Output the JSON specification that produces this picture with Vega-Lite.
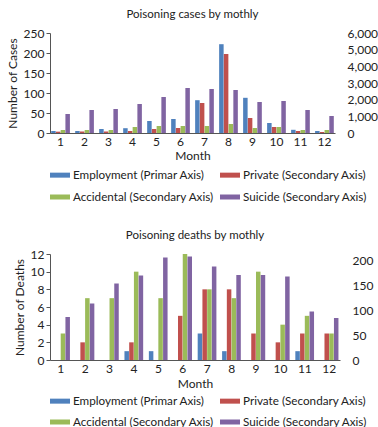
{
  "$schema": "https://vega.github.io/schema/vega-lite/v6.json",
  "padding": {"top": 8, "left": 6, "right": 2, "bottom": 0},
  "background": "white",
  "config": {
    "view": {"stroke": null},
    "font": "Lato",
    "axis": {"labelFont": "Lato", "titleFont": "Lato", "labelColor": "#222", "titleColor": "#222", "labelFontSize": 12, "titleFontSize": 12, "titleFontWeight": "normal", "grid": false},
    "legend": {"labelFont": "Lato", "labelFontSize": 11.7, "labelColor": "#222"},
    "title": {"font": "Lato", "fontSize": 11.5, "fontWeight": "normal", "color": "#222"}
  },
  "datasets": {
    "d": [
      {"chart": "cases", "month": 1, "series": "Employment (Primar Axis)", "value": 5},
      {"chart": "cases", "month": 2, "series": "Employment (Primar Axis)", "value": 5},
      {"chart": "cases", "month": 3, "series": "Employment (Primar Axis)", "value": 10},
      {"chart": "cases", "month": 4, "series": "Employment (Primar Axis)", "value": 12},
      {"chart": "cases", "month": 5, "series": "Employment (Primar Axis)", "value": 30},
      {"chart": "cases", "month": 6, "series": "Employment (Primar Axis)", "value": 35},
      {"chart": "cases", "month": 7, "series": "Employment (Primar Axis)", "value": 82},
      {"chart": "cases", "month": 8, "series": "Employment (Primar Axis)", "value": 222},
      {"chart": "cases", "month": 9, "series": "Employment (Primar Axis)", "value": 88},
      {"chart": "cases", "month": 10, "series": "Employment (Primar Axis)", "value": 25},
      {"chart": "cases", "month": 11, "series": "Employment (Primar Axis)", "value": 8},
      {"chart": "cases", "month": 12, "series": "Employment (Primar Axis)", "value": 5},
      {"chart": "cases", "month": 1, "series": "Private (Secondary Axis)", "value": 80},
      {"chart": "cases", "month": 2, "series": "Private (Secondary Axis)", "value": 90},
      {"chart": "cases", "month": 3, "series": "Private (Secondary Axis)", "value": 90},
      {"chart": "cases", "month": 4, "series": "Private (Secondary Axis)", "value": 120},
      {"chart": "cases", "month": 5, "series": "Private (Secondary Axis)", "value": 240},
      {"chart": "cases", "month": 6, "series": "Private (Secondary Axis)", "value": 300},
      {"chart": "cases", "month": 7, "series": "Private (Secondary Axis)", "value": 1800},
      {"chart": "cases", "month": 8, "series": "Private (Secondary Axis)", "value": 4740},
      {"chart": "cases", "month": 9, "series": "Private (Secondary Axis)", "value": 900},
      {"chart": "cases", "month": 10, "series": "Private (Secondary Axis)", "value": 360},
      {"chart": "cases", "month": 11, "series": "Private (Secondary Axis)", "value": 120},
      {"chart": "cases", "month": 12, "series": "Private (Secondary Axis)", "value": 60},
      {"chart": "cases", "month": 1, "series": "Accidental (Secondary Axis)", "value": 180},
      {"chart": "cases", "month": 2, "series": "Accidental (Secondary Axis)", "value": 180},
      {"chart": "cases", "month": 3, "series": "Accidental (Secondary Axis)", "value": 180},
      {"chart": "cases", "month": 4, "series": "Accidental (Secondary Axis)", "value": 360},
      {"chart": "cases", "month": 5, "series": "Accidental (Secondary Axis)", "value": 420},
      {"chart": "cases", "month": 6, "series": "Accidental (Secondary Axis)", "value": 420},
      {"chart": "cases", "month": 7, "series": "Accidental (Secondary Axis)", "value": 420},
      {"chart": "cases", "month": 8, "series": "Accidental (Secondary Axis)", "value": 540},
      {"chart": "cases", "month": 9, "series": "Accidental (Secondary Axis)", "value": 300},
      {"chart": "cases", "month": 10, "series": "Accidental (Secondary Axis)", "value": 360},
      {"chart": "cases", "month": 11, "series": "Accidental (Secondary Axis)", "value": 180},
      {"chart": "cases", "month": 12, "series": "Accidental (Secondary Axis)", "value": 180},
      {"chart": "cases", "month": 1, "series": "Suicide (Secondary Axis)", "value": 1140},
      {"chart": "cases", "month": 2, "series": "Suicide (Secondary Axis)", "value": 1380},
      {"chart": "cases", "month": 3, "series": "Suicide (Secondary Axis)", "value": 1440},
      {"chart": "cases", "month": 4, "series": "Suicide (Secondary Axis)", "value": 1740},
      {"chart": "cases", "month": 5, "series": "Suicide (Secondary Axis)", "value": 2160},
      {"chart": "cases", "month": 6, "series": "Suicide (Secondary Axis)", "value": 2700},
      {"chart": "cases", "month": 7, "series": "Suicide (Secondary Axis)", "value": 2640},
      {"chart": "cases", "month": 8, "series": "Suicide (Secondary Axis)", "value": 2580},
      {"chart": "cases", "month": 9, "series": "Suicide (Secondary Axis)", "value": 1860},
      {"chart": "cases", "month": 10, "series": "Suicide (Secondary Axis)", "value": 1920},
      {"chart": "cases", "month": 11, "series": "Suicide (Secondary Axis)", "value": 1380},
      {"chart": "cases", "month": 12, "series": "Suicide (Secondary Axis)", "value": 1020},
      {"chart": "deaths", "month": 1, "series": "Employment (Primar Axis)", "value": 0},
      {"chart": "deaths", "month": 2, "series": "Employment (Primar Axis)", "value": 0},
      {"chart": "deaths", "month": 3, "series": "Employment (Primar Axis)", "value": 0},
      {"chart": "deaths", "month": 4, "series": "Employment (Primar Axis)", "value": 1},
      {"chart": "deaths", "month": 5, "series": "Employment (Primar Axis)", "value": 1},
      {"chart": "deaths", "month": 6, "series": "Employment (Primar Axis)", "value": 0},
      {"chart": "deaths", "month": 7, "series": "Employment (Primar Axis)", "value": 3},
      {"chart": "deaths", "month": 8, "series": "Employment (Primar Axis)", "value": 1},
      {"chart": "deaths", "month": 9, "series": "Employment (Primar Axis)", "value": 0},
      {"chart": "deaths", "month": 10, "series": "Employment (Primar Axis)", "value": 0},
      {"chart": "deaths", "month": 11, "series": "Employment (Primar Axis)", "value": 1},
      {"chart": "deaths", "month": 12, "series": "Employment (Primar Axis)", "value": 0},
      {"chart": "deaths", "month": 1, "series": "Private (Secondary Axis)", "value": 0},
      {"chart": "deaths", "month": 2, "series": "Private (Secondary Axis)", "value": 2},
      {"chart": "deaths", "month": 3, "series": "Private (Secondary Axis)", "value": 0},
      {"chart": "deaths", "month": 4, "series": "Private (Secondary Axis)", "value": 2},
      {"chart": "deaths", "month": 5, "series": "Private (Secondary Axis)", "value": 0},
      {"chart": "deaths", "month": 6, "series": "Private (Secondary Axis)", "value": 5},
      {"chart": "deaths", "month": 7, "series": "Private (Secondary Axis)", "value": 8},
      {"chart": "deaths", "month": 8, "series": "Private (Secondary Axis)", "value": 8},
      {"chart": "deaths", "month": 9, "series": "Private (Secondary Axis)", "value": 3},
      {"chart": "deaths", "month": 10, "series": "Private (Secondary Axis)", "value": 2},
      {"chart": "deaths", "month": 11, "series": "Private (Secondary Axis)", "value": 3},
      {"chart": "deaths", "month": 12, "series": "Private (Secondary Axis)", "value": 3},
      {"chart": "deaths", "month": 1, "series": "Accidental (Secondary Axis)", "value": 3},
      {"chart": "deaths", "month": 2, "series": "Accidental (Secondary Axis)", "value": 7},
      {"chart": "deaths", "month": 3, "series": "Accidental (Secondary Axis)", "value": 7},
      {"chart": "deaths", "month": 4, "series": "Accidental (Secondary Axis)", "value": 10},
      {"chart": "deaths", "month": 5, "series": "Accidental (Secondary Axis)", "value": 7},
      {"chart": "deaths", "month": 6, "series": "Accidental (Secondary Axis)", "value": 12},
      {"chart": "deaths", "month": 7, "series": "Accidental (Secondary Axis)", "value": 8},
      {"chart": "deaths", "month": 8, "series": "Accidental (Secondary Axis)", "value": 7},
      {"chart": "deaths", "month": 9, "series": "Accidental (Secondary Axis)", "value": 10},
      {"chart": "deaths", "month": 10, "series": "Accidental (Secondary Axis)", "value": 4},
      {"chart": "deaths", "month": 11, "series": "Accidental (Secondary Axis)", "value": 5},
      {"chart": "deaths", "month": 12, "series": "Accidental (Secondary Axis)", "value": 3},
      {"chart": "deaths", "month": 1, "series": "Suicide (Secondary Axis)", "value": 86},
      {"chart": "deaths", "month": 2, "series": "Suicide (Secondary Axis)", "value": 113},
      {"chart": "deaths", "month": 3, "series": "Suicide (Secondary Axis)", "value": 153},
      {"chart": "deaths", "month": 4, "series": "Suicide (Secondary Axis)", "value": 169},
      {"chart": "deaths", "month": 5, "series": "Suicide (Secondary Axis)", "value": 205},
      {"chart": "deaths", "month": 6, "series": "Suicide (Secondary Axis)", "value": 207},
      {"chart": "deaths", "month": 7, "series": "Suicide (Secondary Axis)", "value": 187},
      {"chart": "deaths", "month": 8, "series": "Suicide (Secondary Axis)", "value": 170},
      {"chart": "deaths", "month": 9, "series": "Suicide (Secondary Axis)", "value": 170},
      {"chart": "deaths", "month": 10, "series": "Suicide (Secondary Axis)", "value": 167},
      {"chart": "deaths", "month": 11, "series": "Suicide (Secondary Axis)", "value": 97},
      {"chart": "deaths", "month": 12, "series": "Suicide (Secondary Axis)", "value": 84}
    ]
  },
  "data": {"name": "d"},
  "spacing": 25,
  "resolve": {"legend": {"color": "independent"}},
  "vconcat": [
    {
      "width": 285,
      "height": 100,
      "title": {"text": "Poisoning cases by mothly", "offset": 7},
      "transform": [{"filter": "datum.chart == 'cases'"}],
      "encoding": {
        "x": {"field": "month", "type": "ordinal", "title": "Month",
          "scale": {"paddingInner": 0.22, "paddingOuter": 0.05},
          "axis": {"labelAngle": 0, "ticks": false, "domainColor": "#555", "labelPadding": 3, "titlePadding": 3}},
        "xOffset": {"field": "series", "type": "nominal",
          "scale": {"domain": ["Employment (Primar Axis)", "Private (Secondary Axis)", "Accidental (Secondary Axis)", "Suicide (Secondary Axis)"], "paddingInner": 0.05}},
        "color": {"field": "series", "type": "nominal",
          "scale": {"domain": ["Employment (Primar Axis)", "Private (Secondary Axis)", "Accidental (Secondary Axis)", "Suicide (Secondary Axis)"], "range": ["#4F81BD", "#C0504D", "#9BBB59", "#8064A2"]},
          "legend": {"orient": "bottom", "title": null, "columns": 2, "columnPadding": 6, "rowPadding": 5, "symbolType": "M-1,-0.25H1V0.25H-1Z", "symbolSize": 400, "symbolStrokeWidth": 0, "symbolOpacity": 1, "labelOffset": 3, "offset": 4}}
      },
      "layer": [
        {
          "mark": {"type": "bar"},
          "transform": [{"filter": "datum.series == 'Employment (Primar Axis)'"}],
          "encoding": {
            "y": {"field": "value", "type": "quantitative", "title": "Number of Cases",
              "scale": {"domain": [0, 250], "nice": false},
              "axis": {"values": [0, 50, 100, 150, 200, 250], "domainColor": "#555", "tickColor": "#555", "tickSize": 4, "titlePadding": 4}}
          }
        },
        {
          "mark": {"type": "bar"},
          "transform": [{"filter": "datum.series != 'Employment (Primar Axis)'"}],
          "encoding": {
            "y": {"field": "value", "type": "quantitative", "title": null,
              "scale": {"domain": [0, 6000], "nice": false},
              "axis": {"orient": "right", "values": [0, 1000, 2000, 3000, 4000, 5000, 6000], "format": ",.0f", "domain": false, "ticks": false, "labelPadding": 12}}
          }
        }
      ],
      "resolve": {"scale": {"y": "independent"}}
    },
    {
      "width": 290,
      "height": 106,
      "title": {"text": "Poisoning deaths by mothly", "offset": 7},
      "transform": [{"filter": "datum.chart == 'deaths'"}],
      "encoding": {
        "x": {"field": "month", "type": "ordinal", "title": "Month",
          "scale": {"paddingInner": 0.22, "paddingOuter": 0.05},
          "axis": {"labelAngle": 0, "ticks": false, "domainColor": "#555", "labelPadding": 3, "titlePadding": 4}},
        "xOffset": {"field": "series", "type": "nominal",
          "scale": {"domain": ["Employment (Primar Axis)", "Private (Secondary Axis)", "Accidental (Secondary Axis)", "Suicide (Secondary Axis)"], "paddingInner": 0.05}},
        "color": {"field": "series", "type": "nominal",
          "scale": {"domain": ["Employment (Primar Axis)", "Private (Secondary Axis)", "Accidental (Secondary Axis)", "Suicide (Secondary Axis)"], "range": ["#4F81BD", "#C0504D", "#9BBB59", "#8064A2"]},
          "legend": {"orient": "bottom", "title": null, "columns": 2, "columnPadding": 6, "rowPadding": 4, "symbolType": "M-1,-0.25H1V0.25H-1Z", "symbolSize": 400, "symbolStrokeWidth": 0, "symbolOpacity": 1, "labelOffset": 3, "offset": 2}}
      },
      "layer": [
        {
          "mark": {"type": "bar"},
          "transform": [{"filter": "datum.series != 'Suicide (Secondary Axis)'"}],
          "encoding": {
            "y": {"field": "value", "type": "quantitative", "title": "Number of Deaths",
              "scale": {"domain": [0, 12], "nice": false},
              "axis": {"values": [0, 2, 4, 6, 8, 10, 12], "domainColor": "#555", "tickColor": "#555", "tickSize": 4, "titlePadding": 4}}
          }
        },
        {
          "mark": {"type": "bar"},
          "transform": [{"filter": "datum.series == 'Suicide (Secondary Axis)'"}],
          "encoding": {
            "y": {"field": "value", "type": "quantitative", "title": null,
              "scale": {"domain": [0, 212], "nice": false},
              "axis": {"orient": "right", "values": [0, 50, 100, 150, 200], "domain": false, "ticks": false, "labelPadding": 12}}
          }
        }
      ],
      "resolve": {"scale": {"y": "independent"}}
    }
  ]
}
